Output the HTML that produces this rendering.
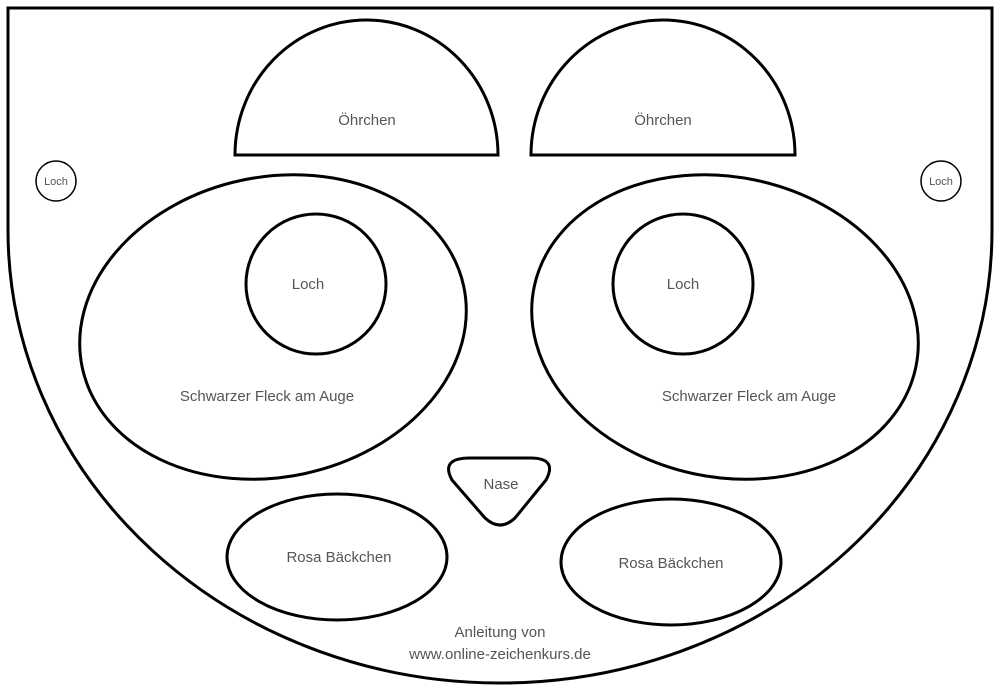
<!DOCTYPE html>
<html><head><meta charset="utf-8"><style>html,body{margin:0;padding:0;background:#fff}svg{display:block}text{font-family:"Liberation Sans",sans-serif;fill:#555;text-anchor:middle}</style></head>
<body>
<svg width="1000" height="692" viewBox="0 0 1000 692">
<g fill="none" stroke="#000" stroke-width="3">
<path d="M8,8 H992 V230 A492,453 0 0 1 8,230 Z"/>
<path d="M235,155 A131.5,135 0 0 1 498,155 Z"/>
<path d="M531,155 A132,135 0 0 1 795,155 Z"/>
<ellipse cx="273" cy="327" rx="195" ry="150" transform="rotate(-12 273 327)"/>
<ellipse cx="725" cy="327" rx="195" ry="150" transform="rotate(12 725 327)"/>
<circle cx="316" cy="284" r="70"/>
<circle cx="683" cy="284" r="70"/>
<ellipse cx="337" cy="557" rx="110" ry="63"/>
<ellipse cx="671" cy="562" rx="110" ry="63"/>
<path d="M470,458 H530 Q558,458 546,480 L515,518 Q500,532 485,518 L452,480 Q440,458 470,458 Z"/>
</g>
<g fill="none" stroke="#000" stroke-width="1.5">
<circle cx="56" cy="181" r="20"/>
<circle cx="941" cy="181" r="20"/>
</g>
<g font-size="15">
<text x="367" y="125">Öhrchen</text>
<text x="663" y="125">Öhrchen</text>
<text x="308" y="289">Loch</text>
<text x="683" y="289">Loch</text>
<text x="267" y="401">Schwarzer Fleck am Auge</text>
<text x="749" y="401">Schwarzer Fleck am Auge</text>
<text x="501" y="489">Nase</text>
<text x="339" y="562">Rosa Bäckchen</text>
<text x="671" y="568">Rosa Bäckchen</text>
<text x="500" y="637">Anleitung von</text>
<text x="500" y="659">www.online-zeichenkurs.de</text>
</g>
<g font-size="11"><text x="56" y="185">Loch</text><text x="941" y="185">Loch</text></g>
</svg>
</body></html>
